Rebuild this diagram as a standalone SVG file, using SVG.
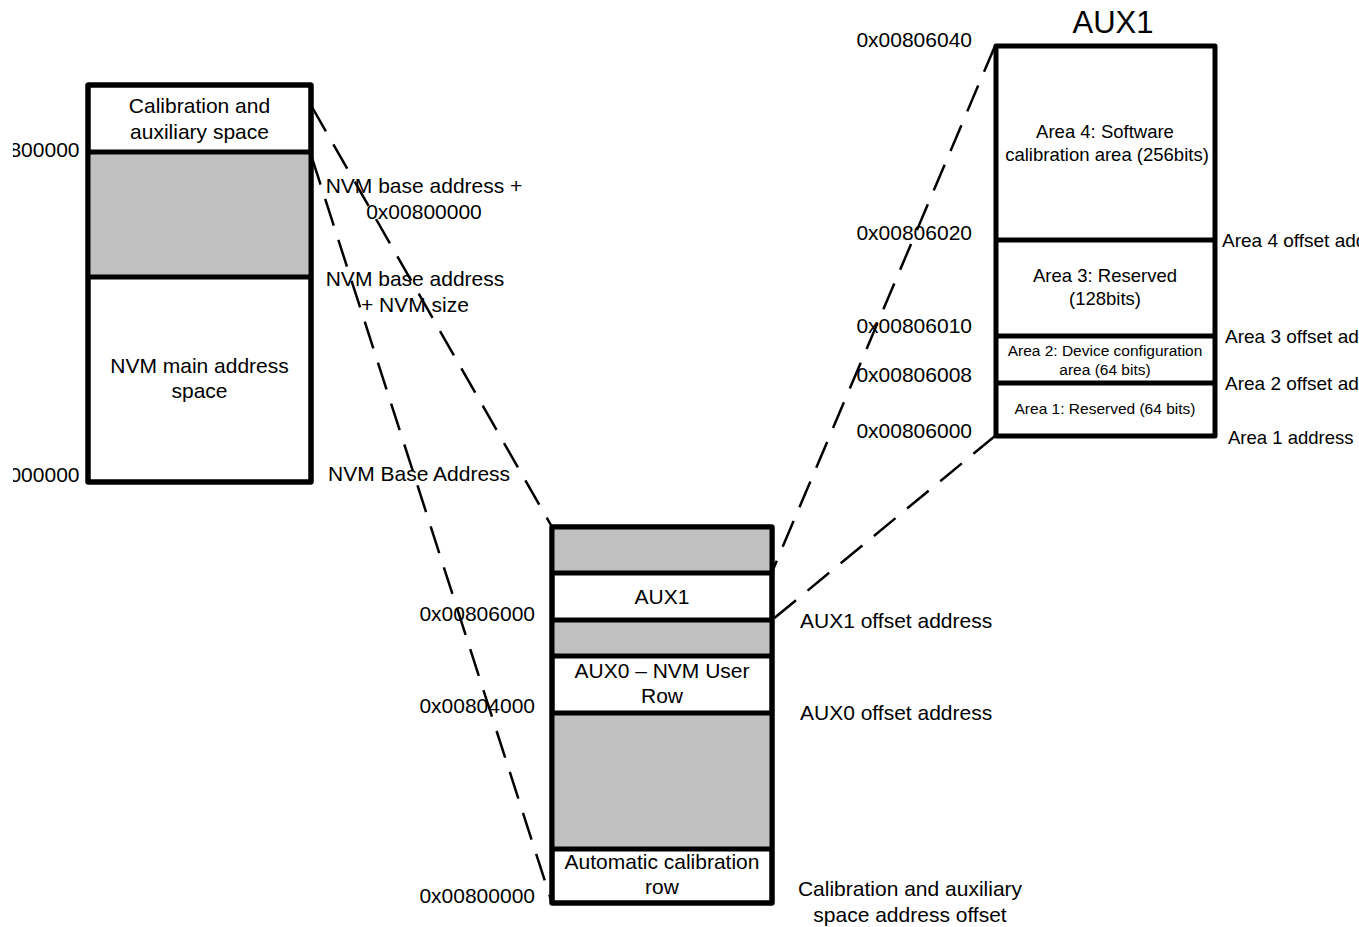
<svg xmlns="http://www.w3.org/2000/svg" width="1359" height="927" viewBox="0 0 1359 927">
<style>
  text { font-family: "Liberation Sans", Arial, sans-serif; fill: #000; }
  .t21 { font-size: 21px; }
  .t18 { font-size: 18.5px; }
  .t19 { font-size: 19px; }
  .t15 { font-size: 15.5px; }
  .c { text-anchor: middle; }
  .e { text-anchor: end; }
  .box { fill: #fff; stroke: #000; stroke-width: 5; stroke-linejoin: round; }
  .frame { fill: none; stroke: #000; stroke-width: 5; stroke-linejoin: round; }
  .gray { fill: #c0c0c0; stroke: none; }
  .div { stroke: #000; stroke-width: 5; fill: none; }
  .dash { stroke: #000; stroke-width: 2.5; fill: none; stroke-dasharray: 28 15; }
</style>
<defs>
  <clipPath id="leftcrop"><rect x="13" y="0" width="1346" height="927"/></clipPath>
</defs>
<rect width="1359" height="927" fill="#fff"/>

<g id="connectors">
  <line class="dash" x1="312" y1="107" x2="552" y2="527"/>
  <line class="dash" x1="312" y1="158" x2="552" y2="903"/>
  <line class="dash" x1="995" y1="46" x2="772" y2="572"/>
  <line class="dash" x1="995" y1="436" x2="772" y2="620"/>
</g>

<g id="nvm-space">
  <rect class="box" x="88" y="85" width="223" height="397"/>
  <rect class="gray" x="88" y="152" width="223" height="125"/>
  <line class="div" x1="88" y1="152" x2="311" y2="152"/>
  <line class="div" x1="88" y1="277" x2="311" y2="277"/>
  <rect class="frame" x="88" y="85" width="223" height="397"/>
  <text class="t21 c" x="199.5" y="113">Calibration and</text>
  <text class="t21 c" x="199.5" y="139">auxiliary space</text>
  <text class="t21 c" x="199.5" y="373">NVM main address</text>
  <text class="t21 c" x="199.5" y="398">space</text>
  <g clip-path="url(#leftcrop)">
    <text class="t21 e" x="79.5" y="157">0x00800000</text>
    <text class="t21 e" x="79.5" y="482">0x00000000</text>
  </g>
  <text class="t21 c" x="424" y="193">NVM base address +</text>
  <text class="t21 c" x="424" y="219">0x00800000</text>
  <text class="t21 c" x="415" y="286">NVM base address</text>
  <text class="t21 c" x="415" y="312">+ NVM size</text>
  <text class="t21" x="328" y="481">NVM Base Address</text>
</g>

<g id="cal-aux-space">
  <rect class="box" x="552" y="527" width="220" height="376"/>
  <rect class="gray" x="552" y="527" width="220" height="46"/>
  <rect class="gray" x="552" y="620" width="220" height="36"/>
  <rect class="gray" x="552" y="713" width="220" height="136"/>
  <line class="div" x1="552" y1="573" x2="772" y2="573"/>
  <line class="div" x1="552" y1="620" x2="772" y2="620"/>
  <line class="div" x1="552" y1="656" x2="772" y2="656"/>
  <line class="div" x1="552" y1="713" x2="772" y2="713"/>
  <line class="div" x1="552" y1="849" x2="772" y2="849"/>
  <rect class="frame" x="552" y="527" width="220" height="376"/>
  <text class="t21 c" x="662" y="604">AUX1</text>
  <text class="t21 c" x="662" y="678">AUX0 – NVM User</text>
  <text class="t21 c" x="662" y="703">Row</text>
  <text class="t21 c" x="662" y="869">Automatic calibration</text>
  <text class="t21 c" x="662" y="894">row</text>
  <text class="t21 e" x="535" y="621">0x00806000</text>
  <text class="t21 e" x="535" y="713">0x00804000</text>
  <text class="t21 e" x="535" y="903">0x00800000</text>
  <text class="t21" x="800" y="628">AUX1 offset address</text>
  <text class="t21" x="800" y="720">AUX0 offset address</text>
  <text class="t21 c" x="910" y="896">Calibration and auxiliary</text>
  <text class="t21 c" x="910" y="922">space address offset</text>
</g>

<g id="aux1">
  <text class="c" x="1113" y="33" font-size="31">AUX1</text>
  <rect class="box" x="996" y="46" width="219" height="390"/>
  <line class="div" x1="996" y1="240" x2="1215" y2="240"/>
  <line class="div" x1="996" y1="336" x2="1215" y2="336"/>
  <line class="div" x1="996" y1="383" x2="1215" y2="383"/>
  <text class="t18 c" x="1105" y="137.5">Area 4: Software</text>
  <text class="t18 c" x="1107" y="160.5">calibration area (256bits)</text>
  <text class="t18 c" x="1105" y="281.5">Area 3: Reserved</text>
  <text class="t18 c" x="1105" y="304.5">(128bits)</text>
  <text class="t15 c" x="1105" y="355.5">Area 2: Device configuration</text>
  <text class="t15 c" x="1105" y="374.5">area (64 bits)</text>
  <text class="t15 c" x="1105" y="413.5">Area 1: Reserved (64 bits)</text>
  <text class="t21 e" x="972" y="47">0x00806040</text>
  <text class="t21 e" x="972" y="240">0x00806020</text>
  <text class="t21 e" x="972" y="333">0x00806010</text>
  <text class="t21 e" x="972" y="382">0x00806008</text>
  <text class="t21 e" x="972" y="438">0x00806000</text>
  <text class="t19" x="1222" y="246.5">Area 4 offset address</text>
  <text class="t19" x="1225" y="342.5">Area 3 offset address</text>
  <text class="t19" x="1225" y="389.5">Area 2 offset address</text>
  <text class="t18" x="1228" y="443.5">Area 1 address</text>
</g>
</svg>
